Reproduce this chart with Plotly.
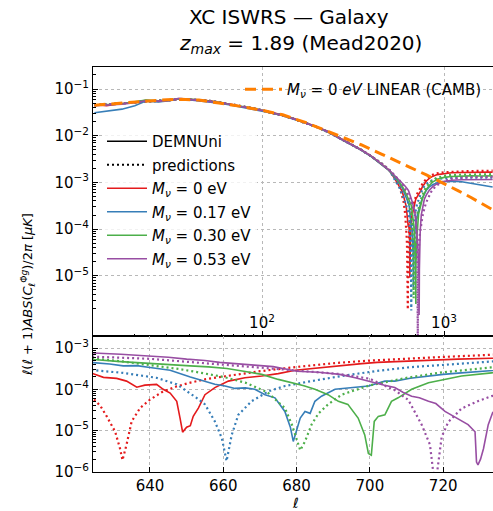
import plotly.graph_objects as go

# ---------------------------------------------------------------- data
# multipoles shared by every series at large scales
ELL_LOW = [12, 14, 17, 20, 23, 27, 31, 35, 40, 46, 53, 60, 68, 77, 88, 100,
           114, 130, 150, 175, 200, 230, 265, 305, 350, 400, 450, 500]

# DEMNUni measurements, low multipoles
LOW_SIM_M000 = [0.046, 0.044, 0.049, 0.052, 0.057, 0.054, 0.057, 0.061, 0.060, 0.057,
                0.055, 0.050, 0.047, 0.042, 0.039, 0.0352, 0.0312, 0.0276, 0.0232, 0.0190,
                0.0156, 0.0123, 0.0091, 0.0068, 0.0050, 0.0036, 0.00255, 0.00182]
LOW_SIM_M017 = [0.031, 0.033, 0.037, 0.044, 0.055, 0.053, 0.056, 0.062, 0.059, 0.056,
                0.053, 0.049, 0.045, 0.041, 0.038, 0.0342, 0.0303, 0.0268, 0.0226, 0.0184,
                0.0152, 0.0119, 0.0088, 0.0066, 0.0049, 0.00352, 0.0025, 0.00178]
LOW_SIM_M030 = [0.045, 0.046, 0.048, 0.053, 0.058, 0.056, 0.058, 0.062, 0.061, 0.058,
                0.054, 0.051, 0.046, 0.043, 0.039, 0.0348, 0.0309, 0.0272, 0.0229, 0.0187,
                0.0154, 0.0121, 0.0090, 0.0067, 0.0050, 0.00358, 0.00253, 0.00181]
LOW_SIM_M053 = [0.044, 0.045, 0.047, 0.051, 0.056, 0.055, 0.057, 0.063, 0.060, 0.057,
                0.054, 0.050, 0.046, 0.042, 0.039, 0.0346, 0.0306, 0.0271, 0.0228, 0.0186,
                0.0153, 0.0121, 0.0090, 0.0067, 0.0050, 0.0036, 0.00256, 0.00184]
# theory predictions, low multipoles
LOW_PRED = [0.045, 0.047, 0.050, 0.053, 0.055, 0.057, 0.059, 0.060, 0.060, 0.058,
            0.055, 0.051, 0.047, 0.043, 0.039, 0.035, 0.031, 0.027, 0.0228, 0.0187,
            0.0153, 0.0121, 0.0091, 0.0068, 0.0050, 0.0036, 0.0026, 0.00185]

# ---- M_nu = 0 eV
ELL_PRED_M000 = [540, 570, 600, 612, 618, 621, 624.5, 626.5, 628.2, 630.5, 631.8, 632.5, 633.6,
                 635, 637.3, 640, 643.6, 647.3, 651, 655, 661, 670, 680, 690, 700, 710, 720,
                 733, 745, 760, 780, 800, 850, 900, 1000, 1100, 1300, 1500, 1850]
CL_PRED_M000 = [1.2e-3, 8.2e-4, 3.8e-4, 2.1e-4, 1.35e-4, 1.0e-4, 6.0e-5, 3.9e-5, 2.2e-5, 9.3e-6,
                3.7e-6, 1.9e-6, 4.5e-6, 1.66e-5, 3.5e-5, 5.6e-5, 8.9e-5, 1.18e-4, 1.45e-4, 1.75e-4,
                2.1e-4, 2.75e-4, 3.5e-4, 4.3e-4, 5.0e-4, 5.6e-4, 6.1e-4, 6.9e-4, 7.8e-4, 9.2e-4,
                1.07e-3, 1.2e-3, 1.42e-3, 1.55e-3, 1.65e-3, 1.7e-3, 1.74e-3, 1.76e-3, 1.78e-3]
ELL_SIM_M000 = [540, 556, 572, 588, 600, 610, 617, 621, 624.5, 627.3, 630.9, 633.6, 636.4, 638.6,
                641.8, 643.6, 645.5, 647.3, 648.2, 648.9, 650, 651, 651.8, 653.2, 655, 657.7,
                661.4, 665.9, 670.5, 675, 679.6, 684, 688.6, 693, 697.8, 702, 706.8, 711, 716,
                724, 733.2, 745, 760, 780, 800, 830, 870, 920, 1000, 1100, 1250, 1400, 1600, 1850]
CL_SIM_M000 = [1.15e-3, 9.6e-4, 8.0e-4, 6.5e-4, 5.0e-4, 4.1e-4, 3.3e-4, 2.9e-4, 2.4e-4, 1.95e-4,
               1.84e-4, 1.58e-4, 1.12e-4, 1.26e-4, 1.32e-4, 1.0e-4, 8.1e-5, 5.1e-5, 2.0e-5, 9.1e-6,
               1.2e-5, 1.3e-5, 2.2e-5, 3.5e-5, 7.4e-5, 1.1e-4, 1.58e-4, 1.9e-4, 2.1e-4, 2.4e-4,
               2.9e-4, 3.2e-4, 3.55e-4, 3.9e-4, 4.2e-4, 4.5e-4, 4.7e-4, 4.9e-4, 5.1e-4, 5.4e-4,
               5.7e-4, 6.6e-4, 8.0e-4, 9.5e-4, 1.07e-3, 1.22e-3, 1.36e-3, 1.47e-3, 1.55e-3, 1.61e-3,
               1.63e-3, 1.65e-3, 1.64e-3, 1.66e-3]

# ---- M_nu = 0.17 eV
ELL_PRED_M017 = [540, 570, 600, 612, 624.5, 632.7, 641.8, 647.3, 652.7, 655, 657.7, 659.6, 660.9,
                 662.3, 664.1, 667.7, 672.3, 676.8, 684, 693, 702, 711, 725, 733, 745, 760, 780,
                 800, 850, 900, 1000, 1100, 1300, 1500, 1850]
CL_PRED_M017 = [1.1e-3, 7.6e-4, 4.6e-4, 3.7e-4, 2.9e-4, 2.5e-4, 1.9e-4, 1.32e-4, 6.2e-5, 4.3e-5,
                1.66e-5, 6.5e-6, 1.8e-6, 7.8e-6, 2.4e-5, 5.1e-5, 8.9e-5, 1.2e-4, 1.58e-4, 2.15e-4,
                2.8e-4, 3.45e-4, 4.2e-4, 4.8e-4, 5.8e-4, 7.0e-4, 8.3e-4, 9.3e-4, 1.08e-3, 1.17e-3,
                1.23e-3, 1.25e-3, 1.26e-3, 1.26e-3, 1.26e-3]
ELL_SIM_M017 = [540, 556, 572, 588, 600, 612, 620, 624.5, 629, 632.7, 636.4, 640, 645.5, 651, 654,
                657.7, 660.5, 663.2, 666, 668.6, 671.4, 674.1, 676.8, 678.3, 679.1, 679.6, 681,
                682.3, 683.7, 685, 686.8, 690.5, 695, 699.6, 704.1, 706.8, 711, 716, 720, 725,
                733.2, 745, 760, 780, 800, 830, 870, 920, 1000, 1100, 1250, 1400, 1600, 1850]
CL_SIM_M017 = [1.22e-3, 1.07e-3, 9.2e-4, 7.8e-4, 6.6e-4, 5.6e-4, 4.9e-4, 4.5e-4, 4.1e-4, 3.7e-4,
               3.75e-4, 3.4e-4, 2.9e-4, 2.0e-4, 1.65e-4, 1.32e-4, 1.2e-4, 1.05e-4, 1.08e-4, 1.0e-4,
               7.4e-5, 6.2e-5, 2.9e-5, 1.2e-5, 5.4e-6, 7.8e-6, 2.0e-5, 2.9e-5, 2.6e-5, 5.1e-5,
               6.8e-5, 1.0e-4, 1.1e-4, 1.2e-4, 1.58e-4, 1.58e-4, 1.85e-4, 2.1e-4, 2.3e-4, 2.5e-4,
               2.9e-4, 3.6e-4, 4.6e-4, 5.8e-4, 6.8e-4, 8.0e-4, 9.0e-4, 9.8e-4, 1.04e-3, 1.06e-3,
               1.03e-3, 9.6e-4, 8.7e-4, 8.0e-4]

# ---- M_nu = 0.30 eV
ELL_PRED_M030 = [540, 570, 600, 612, 624.5, 632, 640, 648, 652, 660, 666, 672, 676.8, 678.7,
                 679.6, 681, 682.3, 684.1, 686, 688.6, 692.3, 700, 710, 720, 733, 745, 760, 780,
                 800, 850, 900, 1000, 1100, 1300, 1500, 1850]
CL_PRED_M030 = [1.32e-3, 1.05e-3, 7.6e-4, 6.6e-4, 5.6e-4, 4.8e-4, 3.9e-4, 3.1e-4, 2.7e-4, 2.0e-4,
                1.45e-4, 8.5e-5, 3.5e-5, 1.4e-5, 8.0e-6, 3.3e-6, 5.4e-6, 1.4e-5, 2.6e-5, 4.3e-5,
                7.4e-5, 1.25e-4, 1.9e-4, 2.6e-4, 3.4e-4, 4.2e-4, 5.3e-4, 6.8e-4, 8.0e-4, 1.05e-3,
                1.22e-3, 1.38e-3, 1.45e-3, 1.48e-3, 1.5e-3, 1.5e-3]
ELL_SIM_M030 = [540, 556, 572, 588, 600, 612, 620, 624.5, 632, 640, 645, 651, 656, 661, 666,
                670.5, 675, 679.6, 682, 685, 688.6, 691.4, 694, 696.8, 698.6, 699.6, 700.4, 701.2,
                702.3, 704.1, 705.9, 707.7, 711.4, 716, 720.5, 725, 733.2, 745, 760, 780, 800,
                830, 870, 920, 1000, 1100, 1250, 1400, 1600, 1850]
CL_SIM_M030 = [1.3e-3, 1.14e-3, 9.9e-4, 8.4e-4, 7.3e-4, 6.3e-4, 5.7e-4, 5.3e-4, 4.7e-4, 4.2e-4,
               4.0e-4, 3.7e-4, 3.5e-4, 3.2e-4, 2.7e-4, 2.3e-4, 1.74e-4, 1.4e-4, 1.22e-4, 1.0e-4,
               7.4e-5, 5.1e-5, 4.3e-5, 2.0e-5, 7.8e-6, 2.75e-6, 2.5e-6, 1.66e-5, 2.2e-5, 2.4e-5,
               5.1e-5, 6.2e-5, 1.0e-4, 1.45e-4, 1.74e-4, 2.1e-4, 2.5e-4, 3.3e-4, 4.4e-4, 5.8e-4,
               7.1e-4, 8.6e-4, 1.03e-3, 1.17e-3, 1.28e-3, 1.34e-3, 1.37e-3, 1.38e-3, 1.37e-3, 1.38e-3]

# ---- M_nu = 0.53 eV
ELL_PRED_M053 = [540, 570, 600, 612, 624.5, 640, 652, 664.6, 680, 691.8, 700, 704.5, 706.8, 710.5,
                 714.1, 716.4, 717.8, 719.6, 721.4, 725, 729.6, 733.2, 745, 760, 780, 800, 850,
                 900, 1000, 1100, 1300, 1500, 1850]
CL_PRED_M053 = [1.36e-3, 1.1e-3, 8.3e-4, 7.2e-4, 6.2e-4, 5.5e-4, 4.5e-4, 3.6e-4, 2.9e-4, 2.35e-4,
                1.8e-4, 1.2e-4, 9.5e-5, 5.5e-5, 1.4e-5, 4.5e-6, 4e-7, 7e-6, 1.6e-5, 3.4e-5,
                5.2e-5, 6.8e-5, 1.2e-4, 1.8e-4, 2.8e-4, 3.8e-4, 6.3e-4, 8.3e-4, 1.07e-3, 1.2e-3,
                1.28e-3, 1.31e-3, 1.32e-3]
ELL_SIM_M053 = [540, 556, 572, 588, 600, 612, 620, 624.5, 632, 640, 645, 650, 655, 659, 664.6, 669,
                673.6, 677, 680, 686, 691.8, 696, 700.8, 704, 706.8, 709, 711.4, 713.5, 716, 718,
                720.5, 722.5, 725, 726.8, 728.7, 729.1, 729.5, 730.2, 731, 732.3, 733.5, 740, 750,
                765, 780, 800, 830, 870, 920, 1000, 1100, 1250, 1400, 1600, 1850]
CL_SIM_M053 = [1.35e-3, 1.22e-3, 1.1e-3, 9.8e-4, 9.0e-4, 8.3e-4, 7.9e-4, 7.6e-4, 7.1e-4, 6.5e-4,
               6.0e-4, 5.4e-4, 5.0e-4, 4.5e-4, 4.1e-4, 3.8e-4, 3.55e-4, 3.1e-4, 2.75e-4, 2.6e-4,
               2.3e-4, 1.9e-4, 1.45e-4, 1.25e-4, 1.1e-4, 8.5e-5, 6.8e-5, 6.2e-5, 5.1e-5, 4.5e-5,
               2.9e-5, 2.3e-5, 1.66e-5, 1.38e-5, 9.3e-6, 1.7e-6, 1.45e-6, 2.0e-6, 3.6e-6, 1.38e-5,
               2.7e-5, 9.0e-5, 2.0e-4, 3.3e-4, 4.4e-4, 5.4e-4, 6.8e-4, 8.2e-4, 9.4e-4, 1.05e-3,
               1.11e-3, 1.14e-3, 1.15e-3, 1.14e-3, 1.15e-3]

# ---- linear CAMB, M_nu = 0 eV
ELL_LIN = [12, 15, 20, 25, 30, 36, 45, 58, 75, 100, 130, 175, 230, 280, 350, 450, 550, 650, 800,
           1000, 1200, 1400, 1600, 1850]
CL_LIN = [0.045, 0.048, 0.053, 0.056, 0.059, 0.060, 0.058, 0.050, 0.043, 0.035, 0.028, 0.0190,
          0.0124, 0.0094, 0.0064, 0.0041, 0.0029, 0.0021, 0.00145, 0.00095, 0.00066, 0.00048,
          0.00036, 0.00026]

MASS_LABELS = ["0", "0.17", "0.30", "0.53"]
COLORS = ["#e41a1c", "#377eb8", "#4daf4a", "#984ea3"]
SERIES = [
    (LOW_SIM_M000, ELL_SIM_M000, CL_SIM_M000, ELL_PRED_M000, CL_PRED_M000),
    (LOW_SIM_M017, ELL_SIM_M017, CL_SIM_M017, ELL_PRED_M017, CL_PRED_M017),
    (LOW_SIM_M030, ELL_SIM_M030, CL_SIM_M030, ELL_PRED_M030, CL_PRED_M030),
    (LOW_SIM_M053, ELL_SIM_M053, CL_SIM_M053, ELL_PRED_M053, CL_PRED_M053),
]

FONT = "DejaVu Sans"
DOT = "2px,3px"
W, H = 493, 511
ML, MR, MT, MB = 93, 0, 67, 39
SPLIT = 0.3358          # lower panel occupies the bottom third

fig = go.Figure()

# legend-only entries for the line styles
fig.add_trace(go.Scatter(x=[None], y=[None], mode="lines", name="DEMNUni",
                         line=dict(color="black", width=1.6), legendgroup="g1"))
fig.add_trace(go.Scatter(x=[None], y=[None], mode="lines", name="predictions",
                         line=dict(color="black", width=2, dash=DOT), legendgroup="g2"))

for i, (low_sim, ell_sim, cl_sim, ell_pred, cl_pred) in enumerate(SERIES):
    col = COLORS[i]
    name = f"<i>M</i><sub><i>ν</i></sub> = {MASS_LABELS[i]} eV"
    ell_s = ELL_LOW + ell_sim
    cl_s = low_sim + cl_sim
    ell_p = ELL_LOW + ell_pred
    cl_p = LOW_PRED + cl_pred
    grp = f"m{i}"
    # upper panel
    fig.add_trace(go.Scatter(x=ell_s, y=cl_s, mode="lines", name=name, legendgroup=grp,
                             line=dict(color=col, width=1.6), xaxis="x", yaxis="y"))
    fig.add_trace(go.Scatter(x=ell_p, y=cl_p, mode="lines", showlegend=False, legendgroup=grp,
                             line=dict(color=col, width=2.2, dash=DOT), xaxis="x", yaxis="y"))
    # lower panel
    fig.add_trace(go.Scatter(x=ell_s, y=cl_s, mode="lines", showlegend=False, legendgroup=grp,
                             line=dict(color=col, width=1.6), xaxis="x2", yaxis="y2"))
    fig.add_trace(go.Scatter(x=ell_p, y=cl_p, mode="lines", showlegend=False, legendgroup=grp,
                             line=dict(color=col, width=2.2, dash=DOT), xaxis="x2", yaxis="y2"))

fig.add_trace(go.Scatter(x=ELL_LIN, y=CL_LIN, mode="lines", legend="legend2",
                         name="<i>M</i><sub><i>ν</i></sub> = 0 <i>eV</i> LINEAR (CAMB)",
                         line=dict(color="#ff7f00", width=3, dash="11px,6px"),
                         xaxis="x", yaxis="y"))

axis_common = dict(showline=True, linecolor="black", linewidth=1, mirror=True,
                   ticks="inside", tickcolor="black", ticklen=5, tickwidth=1,
                   showgrid=True, gridcolor="#b8b8b8", griddash="dot", gridwidth=0.8,
                   zeroline=False, tickfont=dict(family=FONT, size=15, color="black"))
minor_log = dict(ticks="inside", ticklen=2.5, tickcolor="black", tickwidth=0.8,
                 showgrid=False, dtick="D1")

fig.update_layout(
    width=W, height=H,
    margin=dict(l=ML, r=MR, t=MT, b=MB),
    paper_bgcolor="white", plot_bgcolor="white",
    font=dict(family=FONT, size=15, color="black"),
    xaxis=dict(axis_common, type="log", range=[1.0714, 3.2692], anchor="y",
               tickvals=[100, 1000], ticktext=["10<sup>2</sup>", "10<sup>3</sup>"],
               ticklabelposition="inside", minor=minor_log),
    yaxis=dict(axis_common, type="log", range=[-6.289, -0.529], domain=[SPLIT, 1],
               anchor="x",
               tickvals=[1e-6, 1e-5, 1e-4, 1e-3, 1e-2, 1e-1],
               ticktext=["10<sup>−6</sup>", "10<sup>−5</sup>", "10<sup>−4</sup>",
                         "10<sup>−3</sup>", "10<sup>−2</sup>", "10<sup>−1</sup>"],
               minor=minor_log),
    xaxis2=dict(axis_common, type="linear", range=[624.45, 733.6], anchor="y2",
                tickvals=[640, 660, 680, 700, 720]),
    yaxis2=dict(axis_common, type="log", range=[-6.01, -2.705], domain=[0, SPLIT],
                anchor="x2",
                tickvals=[1e-6, 1e-5, 1e-4, 1e-3],
                ticktext=["10<sup>−6</sup>", "10<sup>−5</sup>", "10<sup>−4</sup>",
                          "10<sup>−3</sup>"],
                minor=minor_log),
    legend=dict(x=(102 - ML) / 400, y=(472 - 125) / 405, xanchor="left", yanchor="top",
                bgcolor="rgba(255,255,255,0.8)", borderwidth=0, itemwidth=40,
                traceorder="grouped", tracegroupgap=1,
                font=dict(family=FONT, size=15, color="black")),
    legend2=dict(x=(240 - ML) / 400, y=(472 - 73) / 405, xanchor="left", yanchor="top",
                 bgcolor="rgba(0,0,0,0)", borderwidth=0, itemwidth=37,
                 font=dict(family=FONT, size=15, color="black")),
    showlegend=True,
)

def px(xp, yp):
    return (xp - ML) / 400, (472 - yp) / 405

annots = [
    (289, 17, "XC ISWRS — Galaxy", 20, 0),
    (300, 44, "<i>z</i><sub><i>max</i></sub> = 1.89 (Mead2020)", 20, 0),
    (28, 295, "<i>ℓ</i>(<i>ℓ</i> + 1)<i>ABS</i>(<i>C</i><sub><i>ℓ</i></sub><sup>Φ̇<i>g</i></sup>)/2<i>π</i> [<i>μK</i>]", 13, -90),
    (295, 503, "<i>ℓ</i>", 14, 0),
]
for xp, yp, txt, sz, ang in annots:
    ax_, ay_ = px(xp, yp)
    fig.add_annotation(x=ax_, y=ay_, xref="paper", yref="paper", text=txt, showarrow=False,
                       textangle=ang, xanchor="center", yanchor="middle",
                       font=dict(family=FONT, size=sz, color="black"))

fig.write_html("out.html")
